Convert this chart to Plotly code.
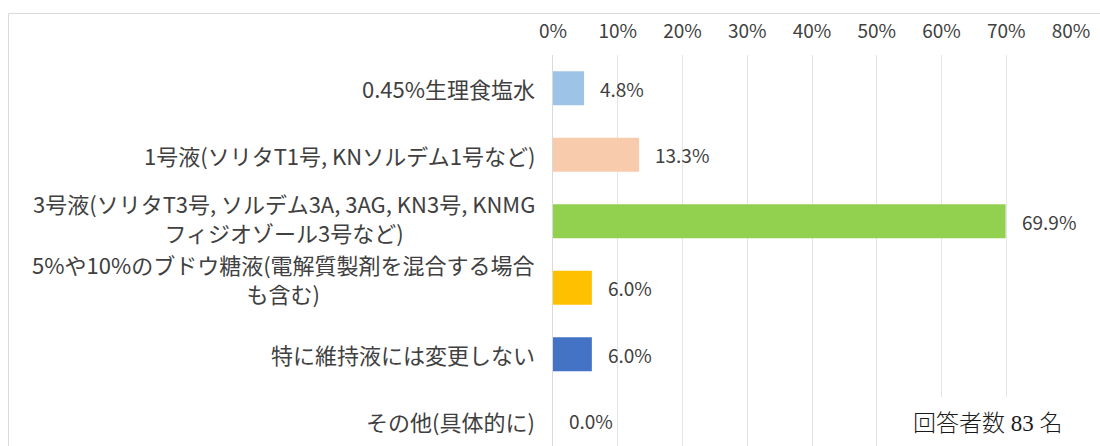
import plotly.graph_objects as go

# ---- data ----
categories = [
    "0.45%生理食塩水",
    "1号液(ソリタT1号, KNソルデム1号など)",
    "3号液(ソリタT3号, ソルデム3A, 3AG, KN3号, KNMG<br>フィジオゾール3号など)",
    "5%や10%のブドウ糖液(電解質製剤を混合する場合<br>も含む)",
    "特に維持液には変更しない",
    "その他(具体的に)",
]
values = [4.8, 13.3, 69.9, 6.0, 6.0, 0.0]
bar_colors = ["#9DC3E6", "#F8CBAD", "#92D050", "#FFC000", "#4472C4", "#A5A5A5"]
tick_vals = [0, 10, 20, 30, 40, 50, 60, 70, 80]
tick_text = [f"{v}%" for v in tick_vals]
value_labels = [f"{v:.1f}%" for v in values]
note_text = "回答者数 83 名"

# ---- layout geometry (pixels) ----
W, H = 1100, 446
plot_l, plot_r, plot_t, plot_b = 553, 1071, 55, 446
row_px = 66.5
pw, ph = plot_r - plot_l, plot_b - plot_t

def px_x(x):
    return (x - plot_l) / pw

def px_y(y):
    return (plot_b - y) / ph

sans = "Noto Sans CJK JP, Noto Sans, sans-serif"
txt_color = "#404040"

fig = go.Figure()
fig.add_trace(go.Bar(
    x=values, y=categories, orientation="h",
    marker=dict(color=bar_colors, line=dict(width=0)),
    hoverinfo="skip", showlegend=False,
))

# value labels
for cat, v, lab in zip(categories, values, value_labels):
    fig.add_annotation(x=v, y=cat, text=lab, showarrow=False, xanchor="left",
                       xshift=14, font=dict(family=sans, size=19, color=txt_color))

# category labels (centered multi-line, right anchored)
label_yshift = [0, 0, 4, 9, 0, 0]
for cat, ys in zip(categories, label_yshift):
    fig.add_annotation(x=0, y=cat, text=cat, showarrow=False, xanchor="right",
                       align="center", xshift=-17, yshift=ys, borderpad=0,
                       font=dict(family=sans, size=22, color=txt_color))

bottom_idx = (plot_b - (plot_t + row_px / 2)) / row_px
fig.update_layout(
    width=W, height=H,
    margin=dict(l=plot_l, r=W - plot_r, t=plot_t, b=H - plot_b, pad=0),
    paper_bgcolor="white", plot_bgcolor="white",
    bargap=0.49,
    xaxis=dict(side="top", range=[0, 80], tickvals=tick_vals, ticktext=tick_text,
               tickfont=dict(family=sans, size=19, color=txt_color),
               showgrid=True, gridcolor="#e4e4e4", gridwidth=1,
               zeroline=False, showline=False, ticks="", automargin=False,
               ticklabelstandoff=12),
    yaxis=dict(type="category", categoryarray=categories,
               range=[bottom_idx, -0.5], showticklabels=False, showgrid=False,
               zeroline=False, showline=True, linecolor="#d9d9d9", linewidth=1,
               ticks="", automargin=False),
    shapes=[
        dict(type="line", xref="paper", yref="paper", x0=px_x(8.5), x1=px_x(8.5),
             y0=px_y(460), y1=px_y(13.5), line=dict(color="#d9d9d9", width=1), layer="above"),
        dict(type="line", xref="paper", yref="paper", x0=px_x(8.5), x1=px_x(1110),
             y0=px_y(13.5), y1=px_y(13.5), line=dict(color="#d9d9d9", width=1), layer="above"),
        dict(type="rect", xref="paper", yref="paper", x0=px_x(905), x1=px_x(1090),
             y0=px_y(460), y1=px_y(397), fillcolor="white", line=dict(width=0), layer="above"),
    ],
)
fig.add_annotation(xref="paper", yref="paper", x=px_x(988), y=px_y(423), text=note_text,
                   showarrow=False, xanchor="center", yanchor="middle",
                   font=dict(family="Liberation Serif, DejaVu Serif, Noto Sans CJK JP, serif",
                             size=23, color="#1a1a1a", weight=300))

fig.write_html("out.html")
